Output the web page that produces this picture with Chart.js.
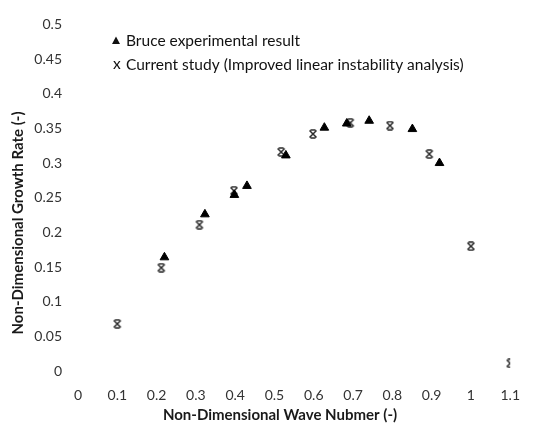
<!DOCTYPE html>
<html lang="en">
<head>
<meta charset="UTF-8">
<title>Growth rate vs wave number</title>
<script src="https://cdn.jsdelivr.net/npm/chart.js"></script>
<style>
    body { margin: 0; padding: 0; background: #fff; }
    #wrap { width: 536px; height: 428px; }
</style>
</head>
<body>
<div id="wrap"><canvas id="growthChart" width="536" height="428"></canvas></div>
<script>
    // data
    const bruceLabel = "Bruce experimental result";
    const bruceX = [0.22, 0.323, 0.398, 0.43, 0.529, 0.627, 0.684, 0.741, 0.851, 0.92];
    const bruceY = [0.164, 0.226, 0.254, 0.267, 0.311, 0.351, 0.357, 0.361, 0.349, 0.300];

    const studyLabel = "Current study (Improved linear instability analysis)";
    const studyX = [0.1, 0.212, 0.309, 0.397, 0.517, 0.598, 0.693, 0.794, 0.894, 1.0, 1.1];
    const studyY = [0.068, 0.149, 0.211, 0.26, 0.316, 0.342, 0.358, 0.354, 0.313, 0.180, 0.011];

    const xTicks = [0, 0.1, 0.2, 0.3, 0.4, 0.5, 0.6, 0.7, 0.8, 0.9, 1, 1.1];
    const yTicks = [0, 0.05, 0.1, 0.15, 0.2, 0.25, 0.3, 0.35, 0.4, 0.45, 0.5];

    const xTitle = "Non-Dimensional Wave Nubmer (-)";
    const yTitle = "Non-Dimensional Growth Rate (-)";

    function toPoints(xs, ys) {
        return xs.map((x, i) => ({ x: x, y: ys[i] }));
    }

    function fmt(v) {
        return String(+(+v).toFixed(2));
    }

    // excel-like "x" marker with short bars top and bottom
    function makeCross(size, color) {
        const c = document.createElement("canvas");
        c.width = size;
        c.height = size;
        const g = c.getContext("2d");
        g.strokeStyle = color;
        g.lineWidth = 1.5;
        g.beginPath();
        g.moveTo(1.5, 1.5); g.lineTo(size - 1.5, size - 1.5);
        g.moveTo(size - 1.5, 1.5); g.lineTo(1.5, size - 1.5);
        g.moveTo(2.5, 1); g.lineTo(size - 2.5, 1);
        g.moveTo(2.5, size - 1); g.lineTo(size - 2.5, size - 1);
        g.stroke();
        return c;
    }
    const crossImg = makeCross(10, "#2a2a2a");

    const titlesAndLegend = {
        id: "titlesAndLegend",
        afterDraw(chart) {
            const ctx = chart.ctx;
            ctx.save();

            // axis titles
            ctx.fillStyle = "#1a1a1a";
            ctx.font = "bold 15px Lato";
            ctx.textAlign = "center";
            ctx.textBaseline = "middle";
            ctx.fillText(xTitle, 280, 415);
            ctx.translate(18, 223);
            ctx.rotate(-Math.PI / 2);
            ctx.fillText(yTitle, 0, 0);
            ctx.setTransform(1, 0, 0, 1, 0, 0);

            // legend in the upper left corner of the plot
            ctx.font = "15.5px Lato";
            ctx.textAlign = "left";
            ctx.fillStyle = "#111";
            ctx.beginPath();
            ctx.moveTo(116, 36.5);
            ctx.lineTo(120, 44);
            ctx.lineTo(112, 44);
            ctx.closePath();
            ctx.fill();
            ctx.fillText(bruceLabel, 126, 41);
            ctx.fillText("x", 113, 64);
            ctx.fillText(studyLabel, 126, 65);
            ctx.restore();
        }
    };

    new Chart(document.getElementById("growthChart"), {
        type: "scatter",
        data: {
            datasets: [
                {
                    label: bruceLabel,
                    data: toPoints(bruceX, bruceY),
                    pointStyle: "triangle",
                    pointRadius: 5,
                    pointHoverRadius: 5,
                    backgroundColor: "#000",
                    borderColor: "#000",
                    borderWidth: 1,
                },
                {
                    label: studyLabel,
                    data: toPoints(studyX, studyY),
                    pointStyle: crossImg,
                    pointRadius: 5,
                },
            ],
        },
        options: {
            responsive: false,
            animation: false,
            layout: { padding: { top: 21, right: 12, left: 0, bottom: 0 } },
            plugins: {
                legend: { display: false },
                tooltip: { enabled: false },
            },
            scales: {
                x: {
                    type: "linear",
                    min: 0,
                    max: 1.1,
                    grid: { display: false, drawTicks: false },
                    border: { display: false },
                    afterBuildTicks: (s) => { s.ticks = xTicks.map((v) => ({ value: v })); },
                    afterFit: (s) => { s.height = 57; },
                    ticks: {
                        padding: 16,
                        color: "#333",
                        font: { family: "Lato", size: 14 },
                        maxRotation: 0,
                        autoSkip: false,
                        callback: fmt,
                    },
                },
                y: {
                    type: "linear",
                    min: 0,
                    max: 0.5,
                    grid: { display: false, drawTicks: false },
                    border: { display: false },
                    afterBuildTicks: (s) => { s.ticks = yTicks.map((v) => ({ value: v })); },
                    afterFit: (s) => { s.width = 78; },
                    ticks: {
                        padding: 16,
                        color: "#333",
                        font: { family: "Lato", size: 14 },
                        autoSkip: false,
                        callback: fmt,
                    },
                },
            },
        },
        plugins: [titlesAndLegend],
    });
</script>
</body>
</html>
